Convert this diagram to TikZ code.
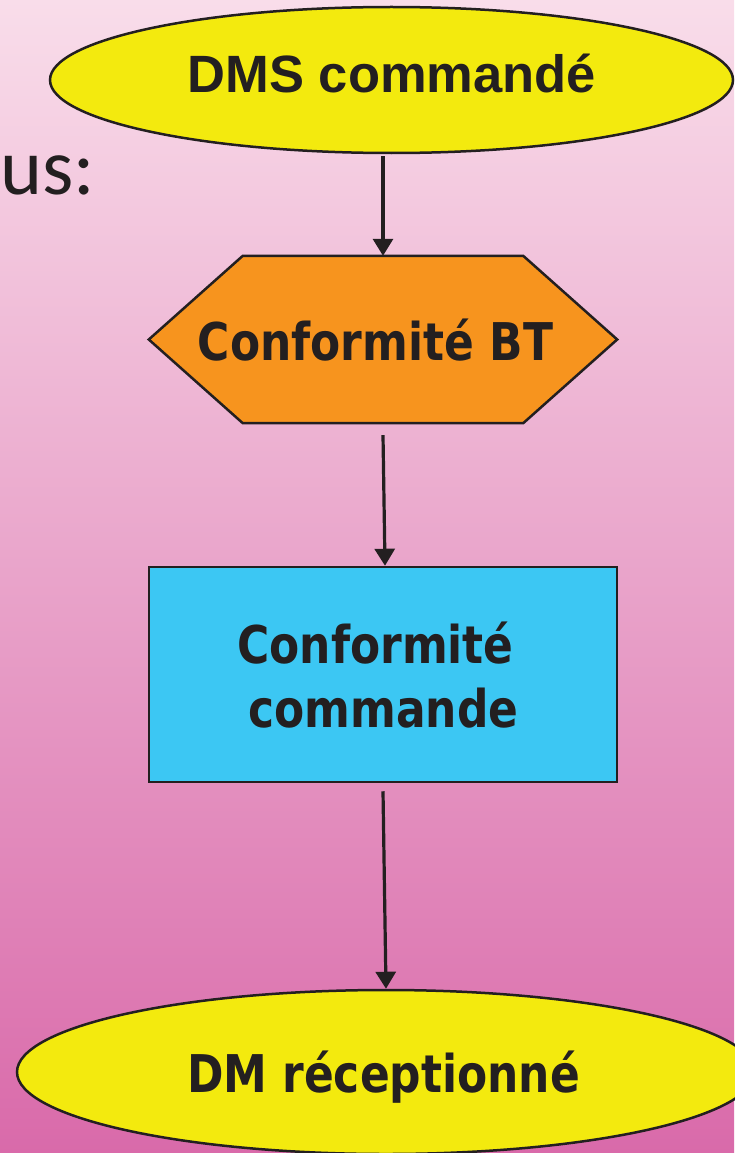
\documentclass[tikz,border=0pt]{standalone}
\usepackage{fontspec}
\usetikzlibrary{arrows.meta,shapes.geometric}
\newfontfamily\arialb{Liberation Sans}
\newfontfamily\tah[FakeStretch=0.845]{DejaVu Sans}
\newfontfamily\calib{Carlito}
\definecolor{ink}{HTML}{231F20}
\definecolor{bgtop}{HTML}{F9DDEA}
\definecolor{bgmid}{HTML}{EAA6CB}
\definecolor{bgbot}{HTML}{D96AAA}
\definecolor{lemon}{HTML}{F3EA0E}
\definecolor{amber}{HTML}{F7941E}
\definecolor{sky}{HTML}{3CC7F3}
\tikzset{
  shapeline/.style={draw=ink, line width=2.5pt, inner sep=0pt},
  oval/.style={shapeline, ellipse, fill=lemon},
  stepbox/.style={shapeline, rectangle, fill=sky},
  hexanchor/.style={rectangle, inner sep=0pt, minimum width=468pt, minimum height=167pt},
  lbl/.style={inner sep=0pt, anchor=base, text=ink},
  tahtext/.style={lbl, font=\tah\bfseries\fontsize{52}{52}\selectfont},
  flow/.style={draw=ink, line width=3.2pt, -{Triangle[width=20pt,length=17pt]}}
}
\begin{document}
\begin{tikzpicture}[x=1pt, y=-1pt]
  % page and pink backdrop
  \useasboundingbox (0,0) rectangle (734,1153);
  \shade[top color=bgtop, middle color=bgmid, bottom color=bgbot] (0,0) rectangle (734,1153);

  % fragment of a heading on the left
  \node[lbl, anchor=base west, font=\calib\fontsize{80}{80}\selectfont] (frag) at (0,194) {us:};

  % flow shapes
  \node[oval, minimum width=683pt, minimum height=146pt] (start) at (391.5,80) {};
  \node[hexanchor] (bt) at (383,339.5) {};
  \filldraw[shapeline, fill=amber, line join=miter]
    (bt.west) -- ([xshift=94pt]bt.north west) -- ([xshift=-94pt]bt.north east)
    -- (bt.east) -- ([xshift=-94pt]bt.south east) -- ([xshift=94pt]bt.south west) -- cycle;
  \node[stepbox, minimum width=468pt, minimum height=215pt] (cmd) at (383,674.5) {};
  \node[oval, minimum width=738pt, minimum height=164pt] (end) at (386,1072) {};

  % texts
  \node[lbl, font=\arialb\bfseries\fontsize{52.5}{52.5}\selectfont] (t1) at (392,93) {DMS commandé};
  \node[tahtext] (t2) at (375.5,360) {Conformité BT};
  \node[tahtext] (t3a) at (375.5,663) {Conformité};
  \node[tahtext] (t3b) at (383.5,727) {commande};
  \node[tahtext] (t4) at (383.5,1092) {DM réceptionné};

  % connectors
  \draw[flow] ([yshift=-2pt]start.south -| bt.north) -- (bt.north);
  \draw[flow] ([yshift=-12pt]bt.south) -- ([xshift=2pt]cmd.north);
  \draw[flow] ([yshift=-8pt]cmd.south) -- (end.north);
\end{tikzpicture}
\end{document}
